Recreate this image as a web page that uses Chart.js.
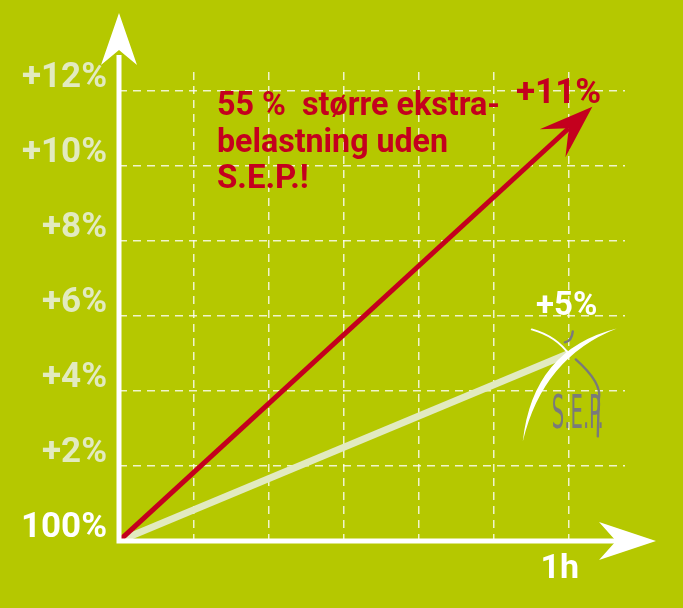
<!DOCTYPE html>
<html>
<head>
<meta charset="utf-8">
<script src="https://cdn.jsdelivr.net/npm/chart.js@4"></script>
<style>
  html, body { margin: 0; padding: 0; background: #b5c800; }
  #wrap { width: 683px; height: 608px; }
</style>
</head>
<body>
<div id="wrap"><canvas id="sepChart" width="683" height="608"></canvas></div>
<script>
// chart data
const hours = [0, 6];              // x positions, 6 grid steps = 1h
const withoutSep = [0, 11];        // % extra load, red line
const withSep = [0, 5];            // % extra load, light line
const yTicks = [0, 2, 4, 6, 8, 10, 12];
const xTicks = [1, 2, 3, 4, 5, 6];
const tickLabelY = v => (v === 0 ? "100%" : "+" + v + "%");
const tickLabelX = v => (v === 6 ? "1h" : "");

const WHITE = "#ffffff";
const PALE = "#e2eac0";
const RED = "#c4001e";
const GRID = "rgba(255,255,255,0.8)";

// draws a notched arrow head; p = notch point, u = unit direction
function arrowHead(ctx, px, py, ux, uy, front, back, half) {
  const nx = -uy, ny = ux;
  ctx.beginPath();
  ctx.moveTo(px + ux * front, py + uy * front);
  ctx.lineTo(px - ux * back + nx * half, py - uy * back + ny * half);
  ctx.lineTo(px, py);
  ctx.lineTo(px - ux * back - nx * half, py - uy * back - ny * half);
  ctx.closePath();
  ctx.fill();
}

const decorations = {
  id: "decorations",
  afterDatasetsDraw(chart) {
    const ctx = chart.ctx;
    const xs = chart.scales.x, ys = chart.scales.y;
    const x0 = xs.getPixelForValue(0), y0 = ys.getPixelForValue(0);

    ctx.save();
    // axes
    ctx.strokeStyle = WHITE;
    ctx.fillStyle = WHITE;
    ctx.lineWidth = 5;
    ctx.beginPath();
    ctx.moveTo(x0, y0 + 2.5);
    ctx.lineTo(x0, 55);
    ctx.moveTo(x0 - 2.5, y0);
    ctx.lineTo(620, y0);
    ctx.stroke();
    arrowHead(ctx, x0, 50, 0, -1, 37, 15, 18);
    arrowHead(ctx, 616, y0, 1, 0, 40, 17, 19);

    // red arrow head at end of red line
    const red = chart.getDatasetMeta(0).data;
    const a = red[0], b = red[red.length - 1];
    let dx = b.x - a.x, dy = b.y - a.y;
    const len = Math.hypot(dx, dy);
    dx /= len; dy /= len;
    ctx.fillStyle = RED;
    arrowHead(ctx, b.x, b.y, dx, dy, 32, 22, 19);

    // SEP logo
    const s = chart.getDatasetMeta(1).data;
    const lx = s[s.length - 1].x, ly = s[s.length - 1].y;
    ctx.fillStyle = WHITE;
    // long tapered arc
    ctx.beginPath();
    ctx.moveTo(lx + 48, ly - 25);
    ctx.quadraticCurveTo(lx - 36, ly - 4, lx - 46, ly + 88);
    ctx.quadraticCurveTo(lx - 26, ly + 4, lx + 48, ly - 25);
    ctx.fill();
    // short arc
    ctx.strokeStyle = WHITE;
    ctx.lineCap = "round";
    ctx.lineWidth = 2;
    ctx.beginPath();
    ctx.moveTo(lx - 37, ly - 24);
    ctx.quadraticCurveTo(lx - 12, ly - 17, lx + 1, ly + 2);
    ctx.stroke();
    // grey strokes
    ctx.strokeStyle = "#7a7a7a";
    ctx.lineWidth = 2.4;
    ctx.beginPath();
    ctx.moveTo(lx - 4, ly - 11);
    ctx.quadraticCurveTo(lx + 3, ly - 12, lx + 4, ly - 22);
    ctx.moveTo(lx + 7, ly + 6);
    ctx.quadraticCurveTo(lx + 34, ly + 30, lx + 30, ly + 46);
    ctx.lineTo(lx + 29, ly + 83);
    ctx.stroke();
    ctx.fillStyle = "#7a7a7a";
    ctx.font = "46px 'DejaVu Sans Condensed'";
    ctx.textBaseline = "alphabetic";
    ctx.fillText("S.E.P.", lx - 17, ly + 75, 52);

    // texts
    ctx.fillStyle = RED;
    ctx.font = "bold 33px Roboto";
    ctx.fillText("55 %  større ekstra-", 217, 115, 283);
    ctx.fillText("belastning uden", 217, 152, 231);
    ctx.fillText("S.E.P.!", 217, 188, 92);
    ctx.font = "bold 35px Roboto";
    ctx.fillText("+11%", 516, 103, 88);
    ctx.fillStyle = WHITE;
    ctx.font = "bold 33px Roboto";
    ctx.fillText("+5%", 536, 315, 67);
    ctx.restore();
  }
};

new Chart(document.getElementById("sepChart"), {
  type: "line",
  data: {
    datasets: [
      {
        label: "uden S.E.P.",
        data: hours.map((h, i) => ({ x: h, y: withoutSep[i] })),
        borderColor: RED,
        borderWidth: 5,
        pointRadius: 0,
      },
      {
        label: "med S.E.P.",
        data: hours.map((h, i) => ({ x: h, y: withSep[i] })),
        borderColor: PALE,
        borderWidth: 7,
        pointRadius: 0,
      },
    ],
  },
  options: {
    responsive: false,
    animation: false,
    layout: { padding: { top: 72, right: 58, left: 0, bottom: 0 } },
    plugins: { legend: { display: false }, tooltip: { enabled: false } },
    scales: {
      x: {
        type: "linear",
        min: 0,
        max: 6.75,
        afterBuildTicks: axis => { axis.ticks = xTicks.map(v => ({ value: v })); },
        afterFit: axis => { axis.height = 67; },
        grid: { color: GRID, lineWidth: 1.5, drawTicks: false, borderDash: [8, 6] },
        border: { display: false, dash: [8, 6] },
        ticks: {
          callback: v => tickLabelX(v),
          color: WHITE,
          font: { family: "Roboto", size: 34, weight: "bold" },
          padding: 8,
          labelOffset: -9,
          maxRotation: 0,
          autoSkip: false,
        },
      },
      y: {
        min: 0,
        max: 12.5,
        afterBuildTicks: axis => { axis.ticks = yTicks.map(v => ({ value: v })); },
        afterFit: axis => { axis.width = 119; },
        grid: {
          color: c => (c.tick && c.tick.value === 0 ? "rgba(0,0,0,0)" : GRID),
          lineWidth: 1.5,
          drawTicks: false,
          borderDash: [8, 6],
        },
        border: { display: false, dash: [8, 6] },
        ticks: {
          callback: v => tickLabelY(v),
          color: c => (c.tick.value === 0 ? WHITE : PALE),
          font: { family: "Roboto", size: 35, weight: "bold" },
          padding: 12,
          labelOffset: -13,
          autoSkip: false,
        },
      },
    },
  },
  plugins: [decorations],
});
</script>
</body>
</html>
